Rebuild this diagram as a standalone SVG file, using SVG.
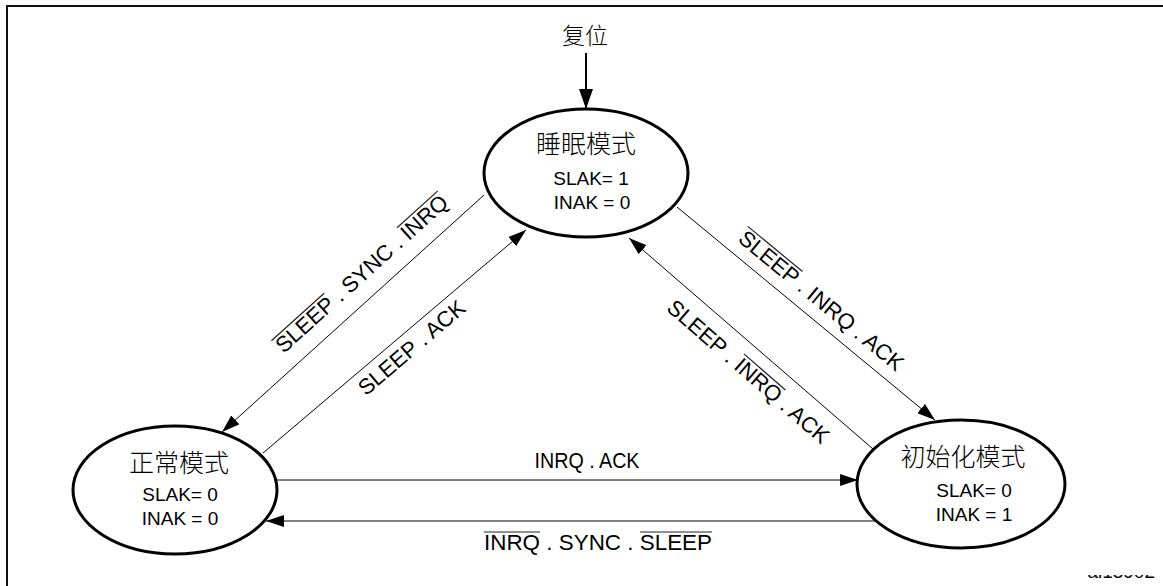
<svg xmlns="http://www.w3.org/2000/svg" width="1163" height="586" viewBox="0 0 1163 586">
<style>
.frame{stroke:#111;stroke-width:2;fill:none}
.state{fill:#fff;stroke:#000;stroke-width:3}
.conn{stroke:#000;stroke-width:1;fill:none}
.ovl{stroke:#222;stroke-width:1.2;fill:none}
.cjk{font-family:"Noto Sans CJK SC","Noto Sans CJK JP",sans-serif;font-size:25px;font-weight:300;fill:#000;text-anchor:middle}
.val{font-family:"Liberation Sans",Arial,sans-serif;font-size:19px;fill:#000;text-anchor:middle}
.lbl{font-family:"Liberation Sans",Arial,sans-serif;font-size:22px;fill:#000;text-anchor:middle}
</style>
<defs>
<marker id="ah" markerUnits="userSpaceOnUse" markerWidth="18" markerHeight="12" refX="18" refY="6" orient="auto">
<path d="M0,0 L18,6 L0,12 z" fill="#000"/>
</marker>
<marker id="ahBig" markerUnits="userSpaceOnUse" markerWidth="20" markerHeight="14" refX="20" refY="7" orient="auto">
<path d="M0,0 L20,7 L0,14 z" fill="#000"/>
</marker>
<clipPath id="cut"><rect x="1060" y="575" width="103" height="11"/></clipPath>
</defs>
<rect width="1163" height="586" fill="#fff"/>
<path class="frame" d="M7,586 L7,6 L1163,6"/>

<g id="connectors">
<line class="conn" x1="586" y1="53" x2="586" y2="109" marker-end="url(#ahBig)" style="stroke-width:2"/>
<line class="conn" x1="484" y1="195" x2="222" y2="432" marker-end="url(#ah)"/>
<line class="conn" x1="263" y1="453" x2="526" y2="230" marker-end="url(#ah)"/>
<line class="conn" x1="677" y1="207" x2="935" y2="420" marker-end="url(#ah)"/>
<line class="conn" x1="873" y1="449" x2="629" y2="238" marker-end="url(#ah)"/>
<line class="conn" x1="276" y1="480" x2="858" y2="480" marker-end="url(#ah)"/>
<line class="conn" x1="876" y1="521" x2="266" y2="521" marker-end="url(#ah)"/>
<text class="cjk" x="585" y="44" style="font-size:23px">复位</text>
<g transform="translate(362,274) rotate(-42)">
<text class="lbl" x="0" y="7">SLEEP . SYNC . INRQ</text>
<line class="ovl" x1="-112" y1="-11" x2="-41" y2="-11"/>
<line class="ovl" x1="57" y1="-11" x2="112" y2="-11"/>
</g>
<g transform="translate(412,348) rotate(-40.4)"><text class="lbl" x="0" y="7">SLEEP . ACK</text></g>
<g transform="translate(821,301) rotate(39.5)">
<text class="lbl" x="0" y="7">SLEEP . INRQ . ACK</text>
<line class="ovl" x1="-104" y1="-11" x2="-33" y2="-11"/>
</g>
<g transform="translate(748,372) rotate(41)">
<text class="lbl" x="0" y="7">SLEEP . INRQ . ACK</text>
<line class="ovl" x1="-15" y1="-11" x2="40" y2="-11"/>
</g>
<text class="lbl" x="587" y="468" textLength="105" lengthAdjust="spacingAndGlyphs">INRQ . ACK</text>
<text class="lbl" x="598" y="550" textLength="228" lengthAdjust="spacingAndGlyphs">INRQ . SYNC . SLEEP</text>
<line class="ovl" x1="484" y1="532" x2="540" y2="532"/>
<line class="ovl" x1="640" y1="532" x2="712" y2="532"/>
</g>

<g id="sleep">
<ellipse class="state" cx="586" cy="173" rx="102" ry="64"/>
<text class="cjk" x="586" y="153">睡眠模式</text>
<text class="val" x="591" y="185">SLAK= 1</text>
<text class="val" x="592" y="209">INAK = 0</text>
</g>

<g id="normal">
<ellipse class="state" cx="175" cy="490" rx="102" ry="64"/>
<text class="cjk" x="179" y="472">正常模式</text>
<text class="val" x="180" y="501">SLAK= 0</text>
<text class="val" x="180" y="525">INAK = 0</text>
</g>

<g id="init">
<ellipse class="state" cx="961" cy="484" rx="104" ry="64"/>
<text class="cjk" x="963" y="466">初始化模式</text>
<text class="val" x="974" y="497">SLAK= 0</text>
<text class="val" x="974" y="521">INAK = 1</text>
</g>

<text class="val" x="1155" y="578" style="text-anchor:end" clip-path="url(#cut)">ai15902</text>
</svg>
